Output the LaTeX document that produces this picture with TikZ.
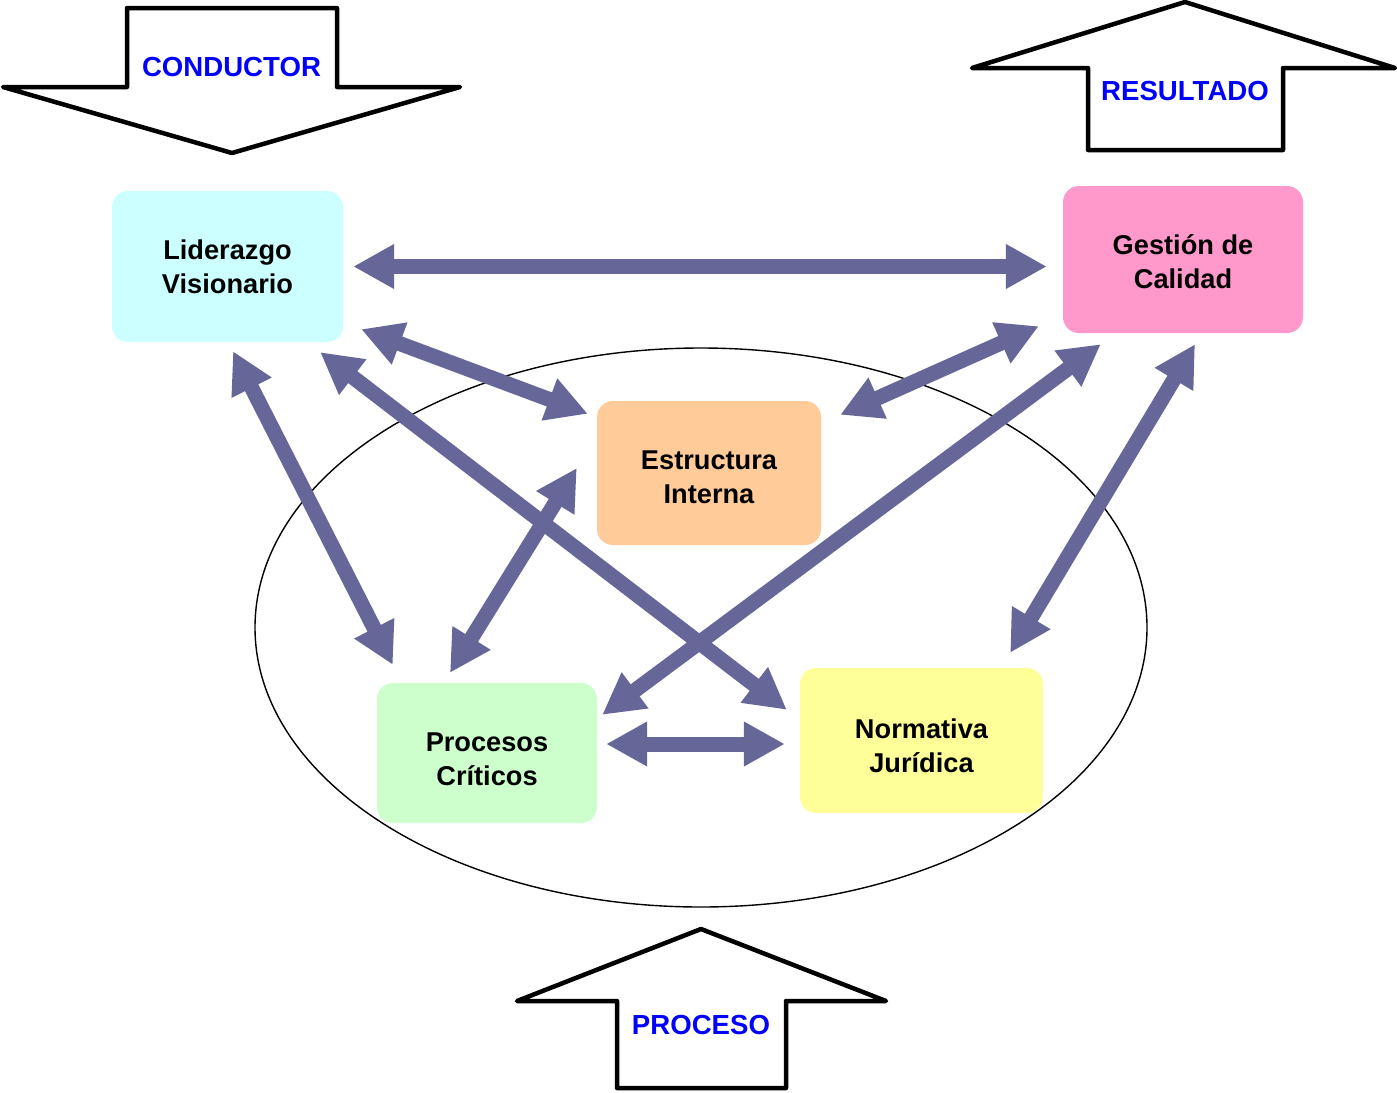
\documentclass[tikz,border=0pt]{standalone}
\usepackage{fontspec}
\setmainfont{Liberation Sans}
\usetikzlibrary{arrows.meta,calc}
\definecolor{arr}{HTML}{666699}
\definecolor{cLid}{HTML}{CCFFFF}
\definecolor{cGes}{HTML}{FF99CC}
\definecolor{cEst}{HTML}{FFCC99}
\definecolor{cPro}{HTML}{CCFFCC}
\definecolor{cNor}{HTML}{FFFF99}
\tikzset{
  box/.style={rounded corners=16pt, draw=none, inner sep=0pt},
  boxtext/.style={inner sep=0pt, align=center,
    font=\bfseries\fontsize{27.2}{34}\selectfont},
  link/.style={draw=arr, line width=15pt,
    {Triangle[length=41pt,width=42pt]}-{Triangle[length=41pt,width=42pt]}},
  blockarrow/.style={draw=black, fill=white, line width=4.5pt, line join=round},
  blocklabel/.style={text=blue, font=\bfseries\fontsize{27.6}{32}\selectfont, inner sep=0pt}
}
\begin{document}
\begin{tikzpicture}[x=1pt,y=-1pt]
\useasboundingbox (0,0) rectangle (1397,1092);
\fill[white] (0,0) rectangle (1397,1092);

% ellipse
\draw[line width=1.4pt] (701,627.5) ellipse [x radius=446, y radius=279.5];

% block arrows
\draw[blockarrow] (127,8) -- (337,8) -- (337,87) -- (460,87) -- (232,153) -- (3,87) -- (127,87) -- cycle;
\node[blocklabel] (cond) at (231.5,66.5) {CONDUCTOR};

\draw[blockarrow] (1185,2) -- (1395,68) -- (1283,68) -- (1283,150) -- (1088,150) -- (1088,68) -- (972,68) -- cycle;
\node[blocklabel] (res) at (1185,90.5) {RESULTADO};

\draw[blockarrow] (701,929) -- (886,1001) -- (786,1001) -- (786,1088) -- (617,1088) -- (617,1001) -- (517,1001) -- cycle;
\node[blocklabel] (proc) at (701,1024.5) {PROCESO};

% boxes
\node[box, fill=cLid, minimum width=231pt, minimum height=151pt] (L) at (227.5,266.5) {};
\node[box, fill=cGes, minimum width=240pt, minimum height=147pt] (G) at (1183,259.5) {};
\node[box, fill=cEst, minimum width=224pt, minimum height=144pt] (E) at (709,473) {};
\node[box, fill=cPro, minimum width=220pt, minimum height=140pt] (P) at (487,753) {};
\node[box, fill=cNor, minimum width=243pt, minimum height=145pt] (N) at (921.5,740.5) {};

\node[boxtext] (Lt) at ($(L)+(0,0.5)$) {Liderazgo\\Visionario};
\node[boxtext] (Gt) at ($(G)+(0,2)$) {Gestión de\\Calidad};
\node[boxtext] (Et) at ($(E)+(0,4.5)$) {Estructura\\Interna};
\node[boxtext] (Pt) at ($(P)+(0,6.5)$) {Procesos\\Críticos};
\node[boxtext] (Nt) at ($(N)+(0,5)$) {Normativa\\Jurídica};

% connectors
\draw[link] ($(L.east)+(10,0)$) -- ($(G.west |- L.east)+(-16,0)$);
\draw[link] ($(L.south east)+(18,-13)$) -- ($(E.north west)+(-9,13)$);
\draw[link] ($(L.south)+(5.5,9)$) -- ($(P.north west)+(16,-18)$);
\draw[link] ($(L.south east)+(-23,10)$) -- ($(N.north west)+(-13,42)$);
\draw[link] ($(G.south west)+(-24,-7)$) -- ($(E.north east)+(19,14)$);
\draw[link] ($(G.south west)+(38,11)$) -- ($(P.north east)+(5,32)$);
\draw[link] ($(G.south)+(12,11)$) -- ($(N.north east)+(-33,-15)$);
\draw[link] ($(E.west)+(-20,-5)$) -- ($(P.north)+(-37,-10)$);
\draw[link] ($(P.east)+(9,-9)$) -- ($(N.west)+(-15,3.5)$);
\end{tikzpicture}
\end{document}
